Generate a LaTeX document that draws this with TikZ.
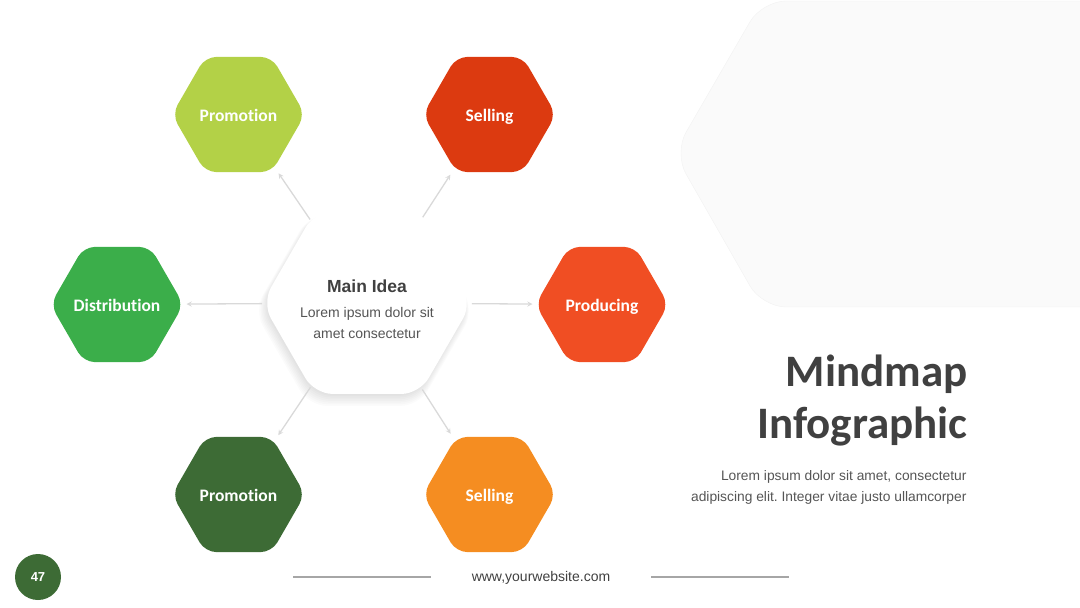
\documentclass[tikz,border=0pt]{standalone}
\usepackage{fontspec}
\setmainfont{Liberation Sans}
\newfontfamily\calfont[Ligatures=NoCommon]{Carlito}
\usetikzlibrary{shapes.geometric}
\frenchspacing

\definecolor{limegreen}{HTML}{B3D147}
\definecolor{rustred}{HTML}{DC3A10}
\definecolor{leafgreen}{HTML}{3BAE4A}
\definecolor{tomato}{HTML}{F04E23}
\definecolor{forest}{HTML}{3D6B35}
\definecolor{amber}{HTML}{F58D21}
\definecolor{inkgray}{HTML}{404040}
\definecolor{bodygray}{HTML}{555555}
\definecolor{linkgray}{HTML}{D9D9D9}
\definecolor{rulegray}{HTML}{A6A6A6}

% label that does not widen the hexagon
\newcommand{\hexlabel}[1]{\makebox[0pt]{#1}}

\tikzset{
  hexnode/.style={regular polygon, regular polygon sides=6, minimum size=133pt,
    inner sep=0pt, rounded corners=11pt, text=white, text height=14pt, text depth=0pt,
    font=\calfont\bfseries\fontsize{17.5}{20}\selectfont},
  linkarrow/.style={->, draw=linkgray, line width=1.3pt},
}

\begin{document}
\begin{tikzpicture}[x=1pt, y=-1pt, >=stealth]
  \useasboundingbox (0,0) rectangle (1080,608);
  % Backdrop panel, top right
  \fill[black!2, draw=black!5, rounded corners=24pt]
    (674,153) -- (762,1) -- (1130,1) -- (1130,307) -- (762,307) -- cycle;
  % Soft shadow under the main hexagon
  \foreach \s in {0,...,7}
    \node[regular polygon, regular polygon sides=6, minimum size={206pt+2pt*\s},
      fill=black, opacity=0.016, rounded corners=18pt] at ({366-0.3*\s},{305+0.8*\s}) {};
  % Central idea
  \node[hexnode, minimum size=210pt, fill=white, rounded corners=18pt] (main) at (367,303) {};
  \node[text=bodygray, align=center, font=\fontsize{14}{21}\selectfont] (mainText)
    at ([yshift=-6pt]main.center)
    {{\fontsize{17.5}{20}\selectfont\bfseries\color{inkgray}Main Idea}\\[4pt]
     Lorem ipsum dolor sit\\amet consectetur};
  % Outer hexagons
  \node[hexnode, fill=limegreen] (promoTop) at (238.5,114.5) {\hexlabel{Promotion}};
  \node[hexnode, fill=rustred] (sellTop) at (489.5,114.5) {\hexlabel{Selling}};
  \node[hexnode, fill=leafgreen] (distrib) at (117,304.5) {\hexlabel{Distribution}};
  \node[hexnode, fill=tomato] (produce) at (602,304.5) {\hexlabel{Producing}};
  \node[hexnode, fill=forest] (promoBot) at (238.5,494.5) {\hexlabel{Promotion}};
  \node[hexnode, fill=amber] (sellBot) at (489.5,494.5) {\hexlabel{Selling}};
  % Links
  \foreach \t in {promoTop, sellTop, promoBot, sellBot}
    \draw[linkarrow, shorten >=7pt] (main) -- (\t);
  \foreach \t in {distrib, produce}
    \draw[linkarrow, shorten >=3pt] (main) -- (\t);
  % Title and text
  \node[anchor=base east, text=inkgray, font=\calfont\bfseries\fontsize{45}{52}\selectfont]
    (titleA) at (971,386) {Mindmap};
  \node[anchor=base east, text=inkgray, font=\calfont\bfseries\fontsize{45}{52}\selectfont]
    (titleB) at (971,438) {Infographic};
  \node[anchor=base east, text=bodygray, font=\fontsize{13.8}{15}\selectfont]
    (bodyA) at (970,480) {Lorem ipsum dolor sit amet, consectetur};
  \node[anchor=base east, text=bodygray, font=\fontsize{13.8}{15}\selectfont]
    (bodyB) at (970,501) {adipiscing elit. Integer vitae justo ullamcorper};
  % Footer
  \node[circle, fill=forest, minimum size=46pt, inner sep=0pt, text=white,
    font=\bfseries\fontsize{13}{15}\selectfont] (pagenum) at (38,577) {47};
  \node[text=inkgray, font=\fontsize{14}{16}\selectfont] (site) at (541,578) {www,yourwebsite.com};
  \draw[rulegray, line width=1.5pt] (293,577) -- (431,577);
  \draw[rulegray, line width=1.5pt] (651,577) -- (789,577);
\end{tikzpicture}
\end{document}
